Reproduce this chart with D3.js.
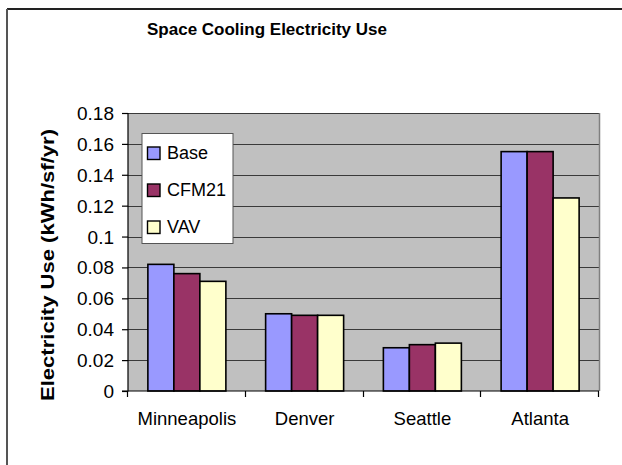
<!DOCTYPE html>
<html><head><meta charset="utf-8">
<script src="https://cdn.jsdelivr.net/npm/d3@7"></script>
<style>
html,body{margin:0;padding:0;background:#fff;}
svg{display:block;font-family:"Liberation Sans",Arial,sans-serif;}
</style></head>
<body><svg id="chart" width="622" height="465"></svg>
<script>
const categories = ["Minneapolis", "Denver", "Seattle", "Atlanta"];
const seriesNames = ["Base", "CFM21", "VAV"];
const baseValues = [0.082, 0.050, 0.028, 0.155];
const cfm21Values = [0.076, 0.049, 0.030, 0.155];
const vavValues = [0.071, 0.049, 0.031, 0.125];
const yTicks = [0, 0.02, 0.04, 0.06, 0.08, 0.1, 0.12, 0.14, 0.16, 0.18];
const yTickLabels = ["0", "0.02", "0.04", "0.06", "0.08", "0.1", "0.12", "0.14", "0.16", "0.18"];
const colors = ["#9999FF", "#993366", "#FFFFCC"];

const seriesValues = [baseValues, cfm21Values, vavValues];
const svg = d3.select("#chart");

// outer chart border (only top and left visible in frame)
svg.append("line").attr("x1", 7).attr("x2", 622).attr("y1", 9).attr("y2", 9).attr("stroke", "#222").attr("stroke-width", 2);
svg.append("line").attr("x1", 7).attr("x2", 7).attr("y1", 9).attr("y2", 465).attr("stroke", "#555").attr("stroke-width", 2);

const L = 128, R = 599, T = 113, B = 391;
const x = d3.scaleBand().domain(categories).range([L, R]).paddingInner(0).paddingOuter(0);
const y = d3.scaleLinear().domain([0, 0.18]).range([B, T]);

// plot background
svg.append("rect").attr("x", L).attr("y", T).attr("width", R - L).attr("height", B - T).attr("fill", "#C0C0C0");

// gridlines
svg.append("g").selectAll("line").data(yTicks.filter(d => d > 0)).join("line")
  .attr("x1", L).attr("x2", R).attr("y1", d => Math.round(y(d)) + 0.5).attr("y2", d => Math.round(y(d)) + 0.5)
  .attr("stroke", "#3a3a3a").attr("stroke-width", 1.2);
// right border of plot
svg.append("line").attr("x1", R + 0.5).attr("x2", R + 0.5).attr("y1", T).attr("y2", B).attr("stroke", "#808080").attr("stroke-width", 1.5);

// bars
const bw = 26;
const groups = svg.append("g");
categories.forEach((c, ci) => {
  const cx = x(c) + x.bandwidth() / 2;
  seriesValues.forEach((vals, si) => {
    const x0 = cx - 1.5 * bw + si * bw;
    groups.append("rect")
      .attr("x", x0).attr("y", y(vals[ci])).attr("width", bw).attr("height", y(0) - y(vals[ci]))
      .attr("fill", colors[si]).attr("stroke", "#000").attr("stroke-width", 1.6);
  });
});

// y axis
const yAxis = d3.axisLeft(y).tickValues(yTicks).tickFormat((d, i) => yTickLabels[i]).tickSize(6).tickPadding(8);
const gy = svg.append("g").attr("transform", `translate(${L},0)`).call(yAxis);
gy.select(".domain").attr("stroke", "#000").attr("stroke-width", 1.2).attr("d", `M-6,${B}H0V${T}`);
gy.selectAll(".tick line").attr("stroke", "#000").attr("stroke-width", 1.2);
gy.selectAll(".tick text").attr("font-size", 19).attr("fill", "#000").attr("font-family", "Liberation Sans, Arial, sans-serif").attr("dy", "0.34em");

// x axis
const xAxis = d3.axisBottom(x).tickSize(0).tickPadding(21);
const gx = svg.append("g").attr("transform", `translate(0,${B})`).call(xAxis);
gx.select(".domain").attr("stroke", "#000").attr("stroke-width", 1.2).attr("d", `M${L},0H${R}`);
gx.selectAll(".tick text").attr("font-size", 18.5).attr("fill", "#000").attr("font-family", "Liberation Sans, Arial, sans-serif");
// category separator ticks
const sepPos = categories.map(c => x(c)).concat([x(categories[categories.length - 1]) + x.bandwidth()]);
gx.append("g").selectAll("line").data(sepPos).join("line")
  .attr("x1", d => Math.round(d) - 0.5).attr("x2", d => Math.round(d) - 0.5).attr("y1", 0).attr("y2", 6)
  .attr("stroke", "#000").attr("stroke-width", 1.2);

// title
svg.append("text").attr("x", 267).attr("y", 35).attr("text-anchor", "middle")
  .attr("font-size", 17).attr("font-weight", "bold").text("Space Cooling Electricity Use");

// y axis title
svg.append("text").attr("transform", "translate(54,265) rotate(-90)").attr("text-anchor", "middle")
  .attr("font-size", 18).attr("font-weight", "bold")
  .attr("textLength", 272).attr("lengthAdjust", "spacingAndGlyphs")
  .text("Electricity Use (kWh/sf/yr)");

// legend
const lg = svg.append("g");
lg.append("rect").attr("x", 142).attr("y", 133.5).attr("width", 91).attr("height", 110)
  .attr("fill", "#fff").attr("stroke", "#555").attr("stroke-width", 1);
seriesNames.forEach((s, i) => {
  const yy = 147 + i * 37;
  lg.append("rect").attr("x", 147.5).attr("y", yy).attr("width", 12.5).attr("height", 12.5)
    .attr("fill", colors[i]).attr("stroke", "#000").attr("stroke-width", 1.4);
  lg.append("text").attr("x", 167).attr("y", yy + 12).attr("font-size", 18).text(s);
});
</script>
</body></html>
